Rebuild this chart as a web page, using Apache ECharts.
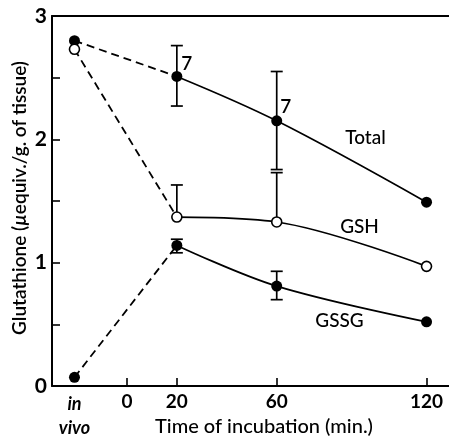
<!DOCTYPE html>
<html><head><meta charset="utf-8">
<script src="https://cdn.jsdelivr.net/npm/echarts@6/dist/echarts.min.js"></script>
<style>html,body{margin:0;padding:0;background:#fff}#c{width:449px;height:437px}</style>
</head><body><div id="c"></div>
<script>
// ---- data ----
const xTickValues = [0, 20, 60, 120];
const xLabelValues = [-21, 0, 20, 60, 120];
const yTickValues = [0, 0.5, 1, 1.5, 2, 2.5, 3];
const yLabelValues = [0, 1, 2, 3];

const inVivoX = -21;
const times = [20, 60, 120];
const totalInVivo = 2.80;
const totalVals = [2.51, 2.15, 1.49];
const gshInVivo = 2.73;
const gshVals = [1.37, 1.33, 0.97];
const gssgInVivo = 0.07;
const gssgVals = [1.14, 0.81, 0.52];
// error bars: [x, low, high, capLow, capHigh]
const totalErr = [[20, 2.27, 2.76, 1, 1], [60, 1.755, 2.55, 1, 1]];
const gshErr = [[20, 1.37, 1.63, 0, 1], [60, 1.33, 1.73, 0, 1]];
const gssgErr = [[20, 1.08, 1.19, 1, 1], [60, 0.70, 0.93, 1, 1]];
const nLabels = ['7', '7'];

// ---- build ----
const FONT = 'Lato, "Open Sans", sans-serif';
const pair = (xs, ys) => xs.map((x, i) => [x, ys[i]]);
const dashed = (v0, v1) => ({
  type: 'line', data: [[inVivoX, v0], [times[0], v1]], symbol: 'none',
  lineStyle: { color: '#000', width: 1.8, type: [8, 5] }, z: 2, silent: true
});
const solid = (vals) => ({
  type: 'line', data: pair(times, vals), symbol: 'none', smooth: 0.35,
  lineStyle: { color: '#000', width: 1.7 }, z: 2, silent: true
});
const errSeries = {
  type: 'custom', z: 3, silent: true,
  data: totalErr.concat(gshErr, gssgErr),
  renderItem: (params, api) => {
    const x = api.value(0);
    const lo = api.coord([x, api.value(1)]);
    const hi = api.coord([x, api.value(2)]);
    const w = 6;
    const ch = [{ type: 'line', shape: { x1: lo[0], y1: lo[1], x2: hi[0], y2: hi[1] }, style: { stroke: '#000', lineWidth: 1.7 } }];
    if (api.value(3)) ch.push({ type: 'line', shape: { x1: lo[0] - w, y1: lo[1], x2: lo[0] + w, y2: lo[1] }, style: { stroke: '#000', lineWidth: 1.7 } });
    if (api.value(4)) ch.push({ type: 'line', shape: { x1: hi[0] - w, y1: hi[1], x2: hi[0] + w, y2: hi[1] }, style: { stroke: '#000', lineWidth: 1.7 } });
    return { type: 'group', children: ch };
  }
};
const filledPts = [[inVivoX, totalInVivo]].concat(pair(times, totalVals), [[inVivoX, gssgInVivo]], pair(times, gssgVals));
const openPts = [[inVivoX, gshInVivo]].concat(pair(times, gshVals));

const chart = echarts.init(document.getElementById('c'), null, { renderer: 'canvas' });
chart.setOption({
  animation: false,
  backgroundColor: '#fff',
  grid: { left: 52, right: 0, top: 16, bottom: 45 },
  xAxis: [{
    type: 'value', min: -30, max: 129,
    axisLine: { onZero: false, lineStyle: { color: '#000', width: 2 } },
    splitLine: { show: false },
    axisTick: { inside: true, length: 8, customValues: xTickValues, lineStyle: { color: '#000', width: 1.6 } },
    axisLabel: {
      customValues: xLabelValues, margin: 6, color: '#000',
      fontFamily: FONT, fontSize: 19, fontWeight: 'bold',
      formatter: v => v === inVivoX ? '{i|in}\n{i|vivo}' : String(v),
      rich: { i: { fontFamily: FONT, fontSize: 18, fontStyle: 'italic', fontWeight: 'bold', color: '#000', lineHeight: 24 } }
    }
  }, {
    type: 'value', position: 'top', min: -30, max: 129,
    axisLine: { onZero: false, lineStyle: { color: '#000', width: 2 } },
    axisTick: { show: false }, axisLabel: { show: false }, splitLine: { show: false }
  }],
  yAxis: {
    type: 'value', min: 0, max: 3,
    axisLine: { show: true, onZero: false, lineStyle: { color: '#000', width: 2 } },
    splitLine: { show: false },
    axisTick: { inside: true, length: 8, customValues: yTickValues, lineStyle: { color: '#000', width: 1.6 } },
    axisLabel: { customValues: yLabelValues, margin: 5, color: '#000', fontFamily: FONT, fontSize: 21, fontWeight: 'bold' }
  },
  series: [
    dashed(totalInVivo, totalVals[0]), solid(totalVals),
    dashed(gshInVivo, gshVals[0]), solid(gshVals),
    dashed(gssgInVivo, gssgVals[0]), solid(gssgVals),
    errSeries,
    { type: 'scatter', data: filledPts, symbol: 'circle', symbolSize: 11, itemStyle: { color: '#000', opacity: 1 }, z: 5, silent: true },
    { type: 'scatter', data: openPts, symbol: 'circle', symbolSize: 10, itemStyle: { color: '#fff', borderColor: '#000', borderWidth: 1.6, opacity: 1 }, z: 5, silent: true }
  ]
});

// annotations placed relative to data points
const px = (x, y) => chart.convertToPixel({ xAxisIndex: 0, yAxisIndex: 0 }, [x, y]);
const txt = (p, text, dx, dy, size, weight) => ({
  type: 'text', x: p[0] + dx, y: p[1] + dy,
  style: { text, fill: '#000', font: `${weight || 'normal'} ${size}px ${FONT}`, align: 'center', verticalAlign: 'middle' }
});
const pT20 = px(times[0], totalVals[0]);
const pT60 = px(times[1], totalVals[1]);
const pT120 = px(times[2], totalVals[2]);
const pG120 = px(times[2], gshVals[2]);
const pS120 = px(times[2], gssgVals[2]);
chart.setOption({
  graphic: [
    txt(pT20, nLabels[0], 10, -13, 19, '600'),
    txt(pT60, nLabels[1], 9, -14, 19, '600'),
    txt(pT120, 'Total', -61, -64, 19, '500'),
    txt(pG120, 'GSH', -67, -39, 19, '500'),
    txt(pS120, 'GSSG', -87, -1, 19, '500'),
    { type: 'text', x: 264, y: 427, style: { text: 'Time of incubation (min.)', fill: '#000', font: `500 20px ${FONT}`, align: 'center', verticalAlign: 'middle' } },
    { type: 'text', x: 20, y: 198, rotation: Math.PI / 2,
      style: { text: '{a|Glutathione (}{b|µ}{a|equiv./g. of tissue)}', align: 'center', verticalAlign: 'middle',
        rich: { a: { fontFamily: FONT, fontSize: 19, fontWeight: '600', fill: '#000', color: '#000' },
                b: { fontFamily: FONT, fontSize: 19, fontWeight: '600', fontStyle: 'italic', fill: '#000', color: '#000' } } } }
  ]
});
</script></body></html>
